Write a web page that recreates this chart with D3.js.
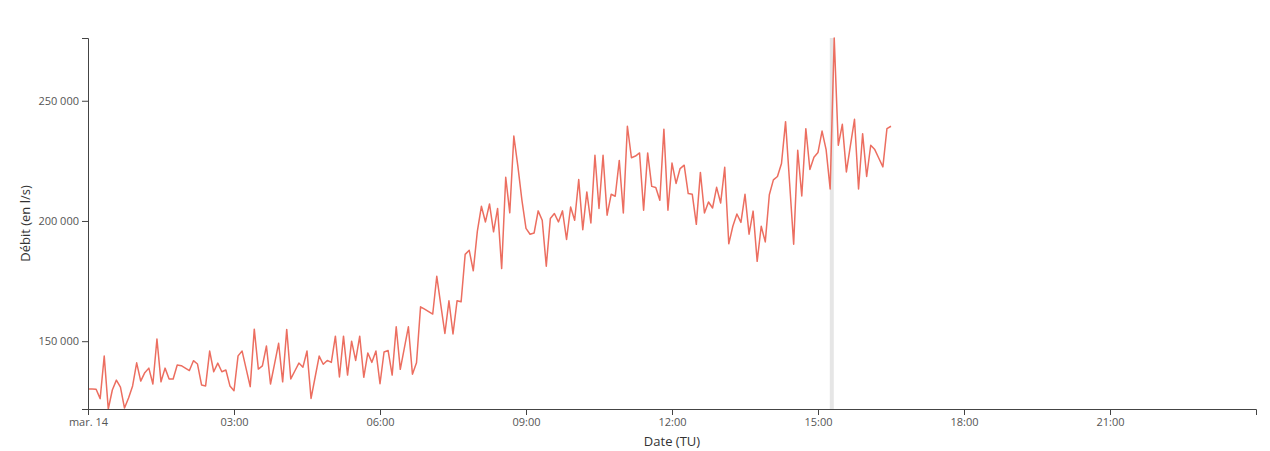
<!DOCTYPE html>
<html><head><meta charset="utf-8">
<script src="https://cdn.jsdelivr.net/npm/d3@7"></script>
<style>
body{margin:0;background:#fff}
svg text{font-family:"Open Sans",sans-serif}
</style>
</head><body>
<svg id="chart" width="1270" height="451"></svg>
<script>
// ---- data (minutes after midnight, TU, on mar. 14) ----
const minutes = [
  0,5,10,15,20,25,30,35,40,45,50,55,
  60,65,70,75,80,85,90,95,100,105,110,115,
  120,125,130,135,140,145,150,155,160,165,170,175,
  180,185,190,195,200,205,210,215,220,225,230,235,
  240,245,250,255,260,265,270,275,280,285,290,295,
  300,305,310,315,320,325,330,335,340,345,350,355,
  360,365,370,375,380,385,390,395,400,405,410,415,
  420,425,430,435,440,445,450,455,460,465,470,475,
  480,485,490,495,500,505,510,515,520,525,530,535,
  540,545,550,555,560,565,570,575,580,585,590,595,
  600,605,610,615,620,625,630,635,640,645,650,655,
  660,665,670,675,680,685,690,695,700,705,710,715,
  720,725,730,735,740,745,750,755,760,765,770,775,
  780,785,790,795,800,805,810,815,820,825,830,835,
  840,845,850,855,860,865,870,875,880,885,890,895,
  900,905,910,915,920,925,930,935,940,945,950,955,
  960,965,970,975,980,985,990
];
const debit = [
  130100,130100,130000,126100,143800,121800,129700,133800,130900,122200,126400,131400,
  141000,133400,136900,138800,132200,150900,133100,138800,134300,134300,140100,139800,
  138800,137800,141900,140500,131800,131400,145900,137300,140900,137300,138000,131400,
  129400,143900,145900,138500,131100,155000,138400,139700,148000,132200,140600,149100,
  133100,154900,134300,137600,140900,139200,145900,126200,135000,143800,140400,142000,
  141200,152100,135100,152100,135900,150000,142000,152100,135000,145100,141200,145900,
  132300,145500,146100,135900,156000,138300,147100,156000,136300,141000,164300,163300,
  162300,161300,177000,165000,153200,166800,153000,166800,166400,186100,187800,179300,
  195700,206100,199600,207100,195500,205200,180200,218200,203400,235300,222700,208600,
  196900,194500,195000,204200,200300,181200,201000,203100,199600,204200,192300,205800,
  200300,217200,196400,212100,199200,227300,205200,227300,202400,211100,210300,225200,
  203300,239400,226300,227000,228300,204500,228300,214400,213900,208600,238200,204500,
  224100,215600,221800,223200,211400,211100,198600,220200,203300,207900,205400,214000,
  207500,222300,190500,197800,202900,199400,211100,194500,204100,183200,197800,191300,
  210900,217100,218500,223900,241300,215800,190300,229400,210400,238400,221400,226500,
  228500,237400,229700,213300,276100,231500,240200,220400,231400,242300,213300,236300,
  218500,231500,229700,226100,222500,238400,239400
];
const markerMinute = 917;               // grey vertical highlight
const xTickHours  = [0,3,6,9,12,15,18,21];
const xTickLabels = ["mar. 14","03:00","06:00","09:00","12:00","15:00","18:00","21:00"];
const yTickValues = [150000,200000,250000];
const xTitle = "Date (TU)";
const yTitle = "Débit (en l/s)";

// ---- layout ----
const W = 1270, H = 451;
const margin = {top:38, right:14, bottom:42, left:88};
const svg = d3.select("#chart");

const t0 = new Date(2023,2,14,0,0,0);
const t1 = new Date(2023,2,15,0,0,0);
const toDate = m => d3.timeMinute.offset(t0, m);

const x = d3.scaleTime().domain([t0,t1]).range([margin.left, W - margin.right]);
const y = d3.scaleLinear().domain(d3.extent(debit)).range([H - margin.bottom, margin.top]);

const fr = d3.formatLocale({decimal:",", thousands:"\u00a0", grouping:[3], currency:["","\u00a0€"]});
const fmt = fr.format(",d");

// marker band
const mx = x(toDate(markerMinute));
svg.append("rect")
  .attr("x", mx - 2).attr("width", 4)
  .attr("y", margin.top).attr("height", H - margin.bottom - margin.top)
  .attr("fill", "#e6e6e6");

// line
const pts = minutes.map((m,i) => [toDate(m), debit[i]]);
svg.append("path")
  .datum(pts)
  .attr("fill","none")
  .attr("stroke","#ec6e60")
  .attr("stroke-width",1.5)
  .attr("stroke-linejoin","round")
  .attr("d", d3.line().x(d => x(d[0])).y(d => y(d[1])));

// axes
const xAxis = d3.axisBottom(x)
  .tickValues(xTickHours.map(h => d3.timeHour.offset(t0, h)))
  .tickFormat((d,i) => xTickLabels[i]);
const gx = svg.append("g")
  .attr("transform", `translate(0,${H - margin.bottom})`)
  .call(xAxis);

const yAxis = d3.axisLeft(y).tickValues(yTickValues).tickFormat(fmt);
const gy = svg.append("g")
  .attr("transform", `translate(${margin.left},0)`)
  .call(yAxis);

[gx, gy].forEach(g => {
  g.attr("font-family", "Open Sans, sans-serif").attr("font-size", 11);
  g.selectAll("path,line").attr("stroke", "#444");
  g.selectAll("text").attr("fill", "#555");
});

// titles
svg.append("text")
  .attr("x", (margin.left + W - margin.right) / 2)
  .attr("y", 446)
  .attr("text-anchor","middle")
  .attr("font-size", 13)
  .attr("fill","#333")
  .text(xTitle);

svg.append("text")
  .attr("transform", `translate(30,${(margin.top + H - margin.bottom) / 2}) rotate(-90)`)
  .attr("text-anchor","middle")
  .attr("font-size", 13)
  .attr("fill","#333")
  .text(yTitle);
</script>
</body></html>
